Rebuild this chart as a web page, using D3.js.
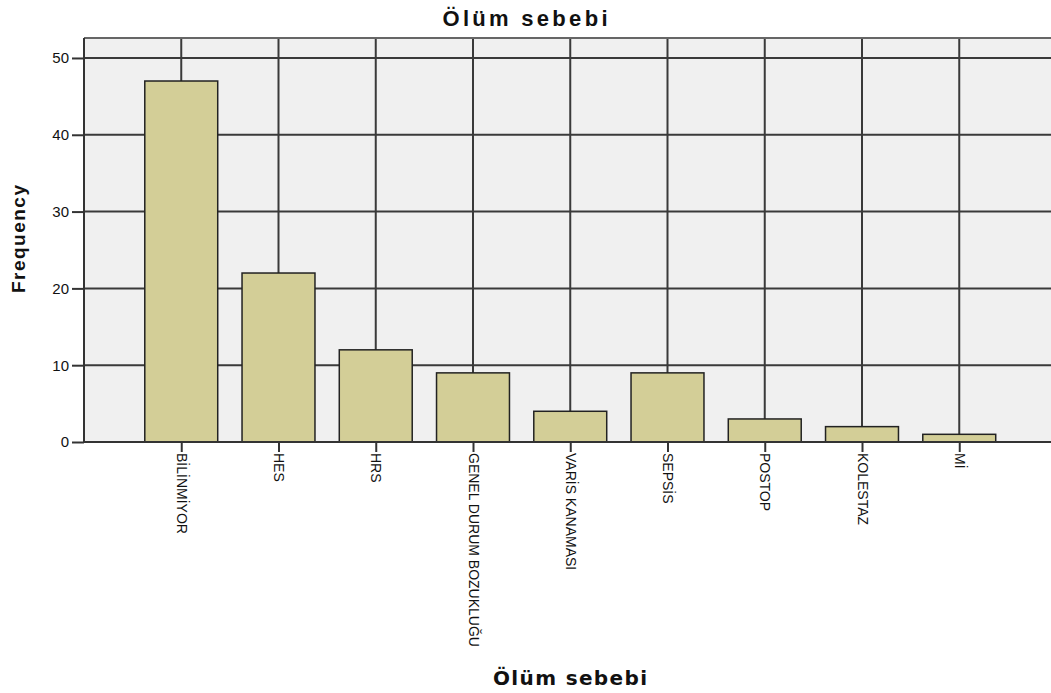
<!DOCTYPE html>
<html>
<head>
<meta charset="utf-8">
<script src="https://cdn.jsdelivr.net/npm/d3@7"></script>
<style>
  body { margin: 0; background: #fff; }
  text { font-family: "Liberation Sans", Arial, sans-serif; fill: #111; }
</style>
</head>
<body>
<div id="chart"></div>
<script>
// chart data
const categories = ['BİLİNMİYOR', 'HES', 'HRS', 'GENEL DURUM BOZUKLUĞU', 'VARİS KANAMASI', 'SEPSİS', 'POSTOP', 'KOLESTAZ', 'Mİ'];
const frequencies = [47, 22, 12, 9, 4, 9, 3, 2, 1];
const yTicks = [0, 10, 20, 30, 40, 50];
const yTop = 52.6;

const totalWidth = 1051, totalHeight = 693;
const margins = {top: 38, left: 84, bottom: 251};
const plotRight = 1056.5;
const plotBottom = totalHeight - margins.bottom;

const svg = d3.select('#chart').append('svg')
  .attr('width', totalWidth)
  .attr('height', totalHeight);

const x = d3.scalePoint()
  .domain(categories)
  .range([margins.left, plotRight])
  .padding(1);

const y = d3.scaleLinear()
  .domain([0, yTop])
  .range([plotBottom, margins.top]);

const barWidth = x.step() * 0.75;
const gridColor = '#3a3a3a';

// background
svg.append('rect')
  .attr('x', margins.left)
  .attr('y', margins.top)
  .attr('width', plotRight - margins.left)
  .attr('height', plotBottom - margins.top)
  .style('fill', '#f0f0f0');

// gridlines
svg.append('g').attr('class', 'grid-y')
  .selectAll('line')
  .data(yTicks.filter(d => d > 0))
  .enter().append('line')
  .attr('x1', margins.left).attr('x2', plotRight)
  .attr('y1', d => y(d)).attr('y2', d => y(d))
  .style('stroke', gridColor).style('stroke-width', 2);

svg.append('g').attr('class', 'grid-x')
  .selectAll('line')
  .data(categories)
  .enter().append('line')
  .attr('x1', d => x(d)).attr('x2', d => x(d))
  .attr('y1', margins.top).attr('y2', plotBottom)
  .style('stroke', gridColor).style('stroke-width', 2);

// frame top and left
svg.append('line')
  .attr('x1', margins.left).attr('x2', plotRight)
  .attr('y1', margins.top).attr('y2', margins.top)
  .style('stroke', '#666').style('stroke-width', 2);
svg.append('line')
  .attr('x1', margins.left).attr('x2', margins.left)
  .attr('y1', margins.top).attr('y2', plotBottom)
  .style('stroke', '#333').style('stroke-width', 2);

// bars
svg.append('g').attr('class', 'bars')
  .selectAll('rect')
  .data(categories.map((c, i) => ({cat: c, value: frequencies[i]})))
  .enter().append('rect')
  .attr('x', d => x(d.cat) - barWidth / 2)
  .attr('y', d => y(d.value))
  .attr('width', barWidth)
  .attr('height', d => plotBottom - y(d.value))
  .style('fill', '#d3ce97')
  .style('stroke', '#222')
  .style('stroke-width', 1.5);

// y axis
const yAxis = svg.append('g')
  .attr('class', 'axis axis--y')
  .attr('transform', 'translate(' + margins.left + ',0)')
  .call(d3.axisLeft(y).tickValues(yTicks).tickSize(12).tickPadding(3));
yAxis.select('.domain').remove();
yAxis.selectAll('.tick line').style('stroke', '#333').style('stroke-width', 2);
yAxis.selectAll('text').style('font-size', '15px').style('font-family', '"Liberation Sans", Arial, sans-serif').style('fill', '#111');

// x axis
const xAxis = svg.append('g')
  .attr('class', 'axis axis--x')
  .attr('transform', 'translate(0,' + plotBottom + ')')
  .call(d3.axisBottom(x).tickSize(10).tickSizeOuter(0));
xAxis.select('.domain')
  .attr('d', 'M' + margins.left + ',0H' + plotRight)
  .style('stroke', '#333').style('stroke-width', 2);
xAxis.selectAll('.tick line').style('stroke', '#333').style('stroke-width', 2);
xAxis.selectAll('text')
  .attr('transform', 'rotate(90)')
  .attr('x', 11)
  .attr('y', 0)
  .attr('dy', '0.35em')
  .style('text-anchor', 'start')
  .style('font-size', '14px')
  .style('font-family', '"Liberation Sans", Arial, sans-serif')
  .style('fill', '#111');

// titles
svg.append('text')
  .attr('x', 525).attr('y', 26)
  .attr('text-anchor', 'middle')
  .attr('textLength', 165).attr('lengthAdjust', 'spacing')
  .style('font-size', '22px').style('font-weight', 'bold')
  .text('Ölüm sebebi');

svg.append('text')
  .attr('x', 570).attr('y', 685)
  .attr('text-anchor', 'middle')
  .attr('textLength', 154).attr('lengthAdjust', 'spacing')
  .style('font-size', '20px').style('font-weight', 'bold')
  .style('font-family', '"DejaVu Sans", sans-serif')
  .text('Ölüm sebebi');

svg.append('text')
  .attr('transform', 'translate(25,239) rotate(-90)')
  .attr('text-anchor', 'middle')
  .attr('textLength', 108).attr('lengthAdjust', 'spacing')
  .style('font-size', '19px').style('font-weight', 'bold')
  .text('Frequency');
</script>
</body>
</html>
